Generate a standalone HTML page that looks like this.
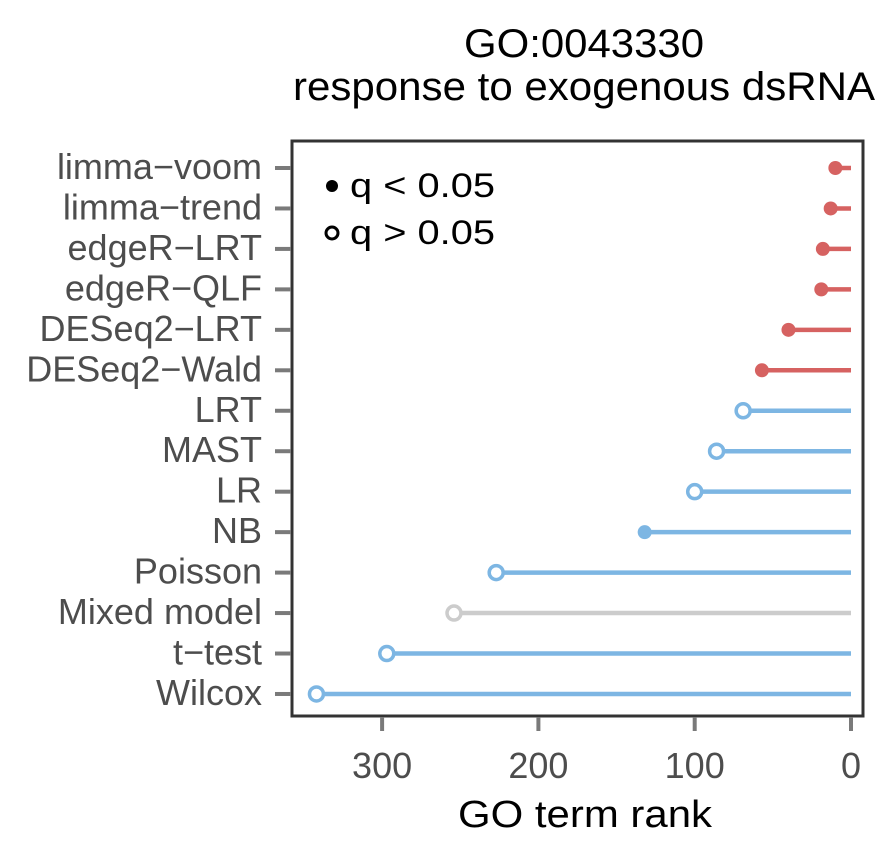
<!DOCTYPE html>
<html><head><meta charset="utf-8"><style>
body{margin:0;background:#fff;}
svg{display:block;font-family:"Liberation Sans",Arial,sans-serif;}
</style></head><body>
<svg id="chart" width="890" height="852" viewBox="0 0 890 852">
<text x="584" y="57" font-size="40" text-anchor="middle" fill="#000" textLength="240" lengthAdjust="spacingAndGlyphs">GO:0043330</text>
<text x="584" y="100" font-size="40" text-anchor="middle" fill="#000" textLength="582" lengthAdjust="spacingAndGlyphs">response to exogenous dsRNA</text>
<g id="marks"></g>
<rect x="292" y="141" width="571" height="575" fill="none" stroke="#333" stroke-width="3"/>
<g>
<circle cx="332" cy="186" r="6" fill="#000"/>
<text x="350" y="197" font-size="34" fill="#000" textLength="145" lengthAdjust="spacingAndGlyphs">q &lt; 0.05</text>
<circle cx="332" cy="233" r="6" fill="#fff" stroke="#000" stroke-width="3"/>
<text x="350" y="244" font-size="34" fill="#000" textLength="145" lengthAdjust="spacingAndGlyphs">q &gt; 0.05</text>
</g>
<text x="585" y="827" font-size="38" text-anchor="middle" fill="#000" textLength="254" lengthAdjust="spacingAndGlyphs">GO term rank</text>
</svg>
<script>
const methods=["limma\u2212voom","limma\u2212trend","edgeR\u2212LRT","edgeR\u2212QLF","DESeq2\u2212LRT","DESeq2\u2212Wald","LRT","MAST","LR","NB","Poisson","Mixed model","t\u2212test","Wilcox"];
const ranks=[10,13,18,19,40,57,69,86,100,132,227,254,297,342];
const significant=[1,1,1,1,1,1,0,0,0,1,0,0,0,0];
const groups=["bulk","bulk","bulk","bulk","bulk","bulk","sc","sc","sc","sc","sc","mixed","sc","sc"];
const xTicks=[300,200,100,0];
const colors={bulk:"#d66261",sc:"#7db6e3",mixed:"#cccccc"};
const ns="http://www.w3.org/2000/svg";
function xs(v){return 851-1.563*v;}
function ys(i){return 168+i*40.46;}
const g=document.getElementById('marks');
const svg=document.getElementById('chart');
function mk(t,a,p){const e=document.createElementNS(ns,t);for(const k in a)e.setAttribute(k,a[k]);(p||g).appendChild(e);return e;}
methods.forEach((m,i)=>{
  const y=ys(i),c=colors[groups[i]];
  const l=mk('line',{x1:xs(0),x2:xs(ranks[i]),y1:y,y2:y,stroke:c,'stroke-width':4.5});
  
  
  const d=mk('circle',{cx:xs(ranks[i]),cy:y,r:7,fill:significant[i]?c:'#fff',stroke:c,'stroke-width':significant[i]?0:3.5});
  
  
  const t=mk('line',{x1:275,x2:291,y1:y,y2:y,stroke:'#7a7a7a','stroke-width':4},svg);
  
  
  const tx=mk('text',{x:262,y:y+11,'font-size':36,'text-anchor':'end',fill:'#4d4d4d'},svg);
  tx.textContent=m;
  
  
});
xTicks.forEach((v,i)=>{
  const t=mk('line',{x1:xs(v),x2:xs(v),y1:717,y2:731,stroke:'#7a7a7a','stroke-width':4},svg);
  
  
  const tx=mk('text',{x:xs(v),y:778,'font-size':36,'text-anchor':'middle',fill:'#4d4d4d'},svg);
  tx.textContent=v;
  
  
});
</script>
</body></html>
